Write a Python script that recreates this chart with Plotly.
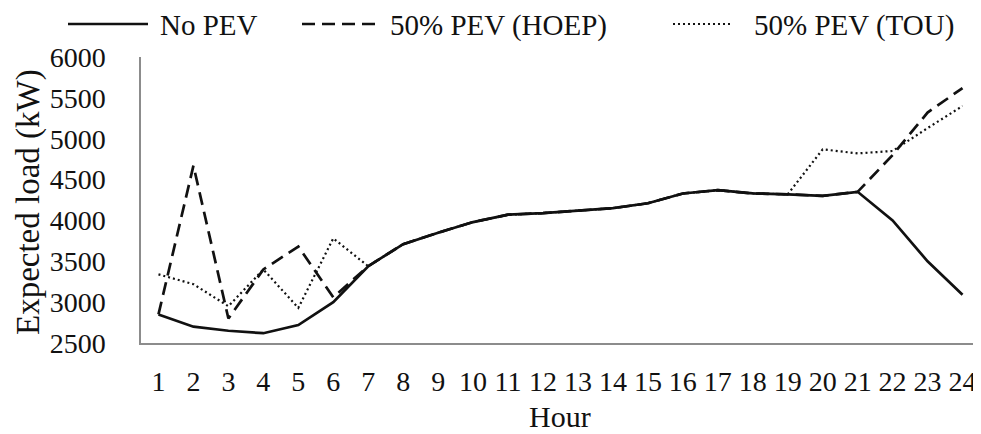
import plotly.graph_objects as go

hours = list(range(1, 25))

no_pev = [2850, 2700, 2650, 2620, 2720, 3000, 3440, 3710, 3850, 3980, 4070, 4090,
          4120, 4150, 4210, 4330, 4370, 4330, 4320, 4300, 4350, 4000, 3500, 3090]
pev_hoep = [2850, 4670, 2800, 3400, 3680, 3060, 3440, 3710, 3850, 3980, 4070, 4090,
            4120, 4150, 4210, 4330, 4370, 4330, 4320, 4300, 4350, 4800, 5320, 5620]
pev_tou = [3340, 3220, 2950, 3400, 2930, 3780, 3440, 3710, 3850, 3980, 4070, 4090,
           4120, 4150, 4210, 4330, 4370, 4330, 4320, 4870, 4820, 4850, 5130, 5400]

series_names = ["No PEV", "50% PEV (HOEP)", "50% PEV (TOU)"]
y_ticks = [2500, 3000, 3500, 4000, 4500, 5000, 5500, 6000]

FONT = "Liberation Serif, Times New Roman, serif"
INK = "#111111"
AXIS = "#8c8c8c"
DASH = "13px,7px"
DOT = "2px,3px"

# the page body keeps its 8px default margin, so lay out in screen pixels and shift
OFF = 8
W, H = 981 - OFF, 434 - OFF
LEFT, RIGHT, TOP, BOTTOM = 141 - OFF, 980 - OFF, 57 - OFF, 343 - OFF


def px_x(screen_x):
    return (screen_x - OFF - LEFT) / (RIGHT - LEFT)


def px_y(screen_y):
    return (BOTTOM - (screen_y - OFF)) / (BOTTOM - TOP)


fig = go.Figure()
styles = [
    (no_pev, dict(color=INK, width=2.7)),
    (pev_hoep, dict(color=INK, width=2.7, dash=DASH)),
    (pev_tou, dict(color=INK, width=2.2, dash=DOT)),
]
for name, (values, line) in zip(series_names, styles):
    fig.add_trace(go.Scatter(x=hours, y=values, mode="lines", name=name, line=line, showlegend=False))

# legend drawn like the Excel original: long line samples
LEGEND_Y = 24
legend_items = [
    (68, 148, 158, dict(color=INK, width=2.7)),
    (302, 375, 388, dict(color=INK, width=2.7, dash=DASH)),
    (673, 730, 752, dict(color=INK, width=2.2, dash=DOT)),
]
for name, (x0, x1, tx, line) in zip(series_names, legend_items):
    fig.add_shape(type="line", xref="paper", yref="paper", x0=px_x(x0), x1=px_x(x1),
                  y0=px_y(LEGEND_Y), y1=px_y(LEGEND_Y), line=line)
    fig.add_annotation(text=name, xref="paper", yref="paper", x=px_x(tx), y=px_y(LEGEND_Y + 1),
                       xanchor="left", yanchor="middle", showarrow=False,
                       font=dict(family=FONT, size=29, color=INK))

# axis titles
fig.add_annotation(text="Expected load (kW)", xref="paper", yref="paper", x=px_x(28), y=px_y(202),
                   xanchor="center", yanchor="middle", textangle=-90, showarrow=False,
                   font=dict(family=FONT, size=33, color=INK))
fig.add_annotation(text="Hour", xref="paper", yref="paper", x=px_x(560), y=px_y(416),
                   xanchor="center", yanchor="middle", showarrow=False,
                   font=dict(family=FONT, size=30, color=INK))

fig.update_layout(
    width=W,
    height=H,
    margin=dict(l=LEFT, r=W - RIGHT, t=TOP, b=H - BOTTOM),
    paper_bgcolor="white",
    plot_bgcolor="white",
    font=dict(family=FONT, size=28, color=INK),
    showlegend=False,
)
fig.update_xaxes(
    range=[0.5, 24.5],
    tickvals=hours,
    ticktext=[str(h) for h in hours],
    showline=True,
    linecolor=AXIS,
    linewidth=1.5,
    showgrid=False,
    zeroline=False,
    ticks="",
    automargin=False,
    ticklabelstandoff=13,
)
fig.update_yaxes(
    range=[2500, 6000],
    tickvals=y_ticks,
    showline=True,
    linecolor=AXIS,
    linewidth=1.5,
    showgrid=False,
    zeroline=False,
    ticks="outside",
    ticklen=28,
    tickcolor="rgba(0,0,0,0)",
    automargin=False,
)

fig.write_html("out.html")
